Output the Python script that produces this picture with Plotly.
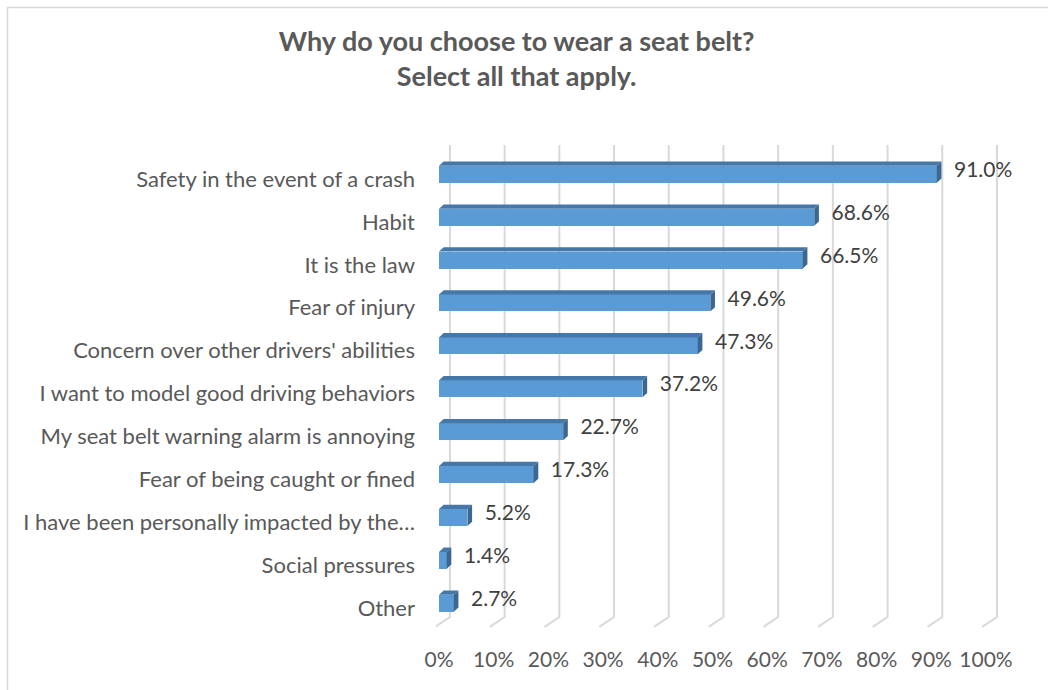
import plotly.graph_objects as go

# Survey responses (percent of respondents)
categories = [
    "Safety in the event of a crash",
    "Habit",
    "It is the law",
    "Fear of injury",
    "Concern over other drivers' abilities",
    "I want to model good driving behaviors",
    "My seat belt warning alarm is annoying",
    "Fear of being caught or fined",
    "I have been personally impacted by the…",
    "Social pressures",
    "Other",
]
values = [91.0, 68.6, 66.5, 49.6, 47.3, 37.2, 22.7, 17.3, 5.2, 1.4, 2.7]
x_ticks = [0, 10, 20, 30, 40, 50, 60, 70, 80, 90, 100]
x_tick_labels = [f"{t}%" for t in x_ticks]

TEXT = "#595959"
FONT = "Lato"
FRONT = "#5b9bd5"
TOP = "#4677a9"
SIDE = "#3c6793"
GRID = "#d9d9d9"

# pseudo-3D geometry (data units)
BAR_W = 0.396
BAR_OFF = -0.308
DEPTH_X = 0.85
DEPTH_Y = 0.10
WALL_X = 2.0
FLOOR_BACK = 10.21
FLOOR_FRONT = 10.44
FLOOR_FRONT_X = -0.7
WALL_TOP = -0.79

pos = list(range(len(categories)))

fig = go.Figure()

# back-wall gridlines folding onto the floor, kept beneath the bars
for t in x_ticks:
    path = (f"M {t + WALL_X},{WALL_TOP} L {t + WALL_X},{FLOOR_BACK} "
            f"L {t + FLOOR_FRONT_X},{FLOOR_FRONT}")
    fig.add_shape(type="path", path=path, xref="x", yref="y",
                  line=dict(color=GRID, width=2), layer="below")

# front faces
fig.add_trace(go.Bar(x=values, y=pos, orientation="h",
                     width=BAR_W, offset=BAR_OFF,
                     marker=dict(color=FRONT, line=dict(width=0)),
                     hoverinfo="skip", showlegend=False))

# top and side faces
tx, ty, sx, sy = [], [], [], []
for p, v in zip(pos, values):
    top = p + BAR_OFF
    bot = p + BAR_OFF + BAR_W
    tx += [0, v, v + DEPTH_X, DEPTH_X, 0, None]
    ty += [top, top, top - DEPTH_Y, top - DEPTH_Y, top, None]
    sx += [v, v + DEPTH_X, v + DEPTH_X, v, v, None]
    sy += [top, top - DEPTH_Y, bot - DEPTH_Y, bot, top, None]
fig.add_trace(go.Scatter(x=tx, y=ty, mode="lines", fill="toself",
                         fillcolor=TOP, line=dict(width=0, color=TOP),
                         hoverinfo="skip", showlegend=False))
fig.add_trace(go.Scatter(x=sx, y=sy, mode="lines", fill="toself",
                         fillcolor=SIDE, line=dict(width=0, color=SIDE),
                         hoverinfo="skip", showlegend=False))

# value labels
fig.add_trace(go.Scatter(
    x=[v + DEPTH_X + 2.3 for v in values],
    y=[p - 0.17 for p in pos],
    mode="text", text=[f"{v:.1f}%" for v in values],
    textposition="middle right",
    textfont=dict(family=FONT, size=21, color="#404040"),
    hoverinfo="skip", showlegend=False, cliponaxis=False))

fig.update_layout(
    width=1048, height=690,
    margin=dict(l=436, r=33, t=140, b=60),
    paper_bgcolor="white", plot_bgcolor="white",
    title=dict(
        text="Why do you choose to wear a seat belt?<br>Select all that apply.",
        font=dict(family=FONT, size=27, color=TEXT, weight="bold"),
        x=0.493, xanchor="center", y=0.926, yanchor="top",
    ),
    xaxis=dict(range=[-0.548, 105.3], tickvals=x_ticks, ticktext=x_tick_labels,
               showgrid=False, zeroline=False, showline=False, ticks="",
               ticklabelstandoff=15,
               tickfont=dict(family=FONT, size=21, color=TEXT)),
    yaxis=dict(range=[10.513, -0.909], tickvals=pos, ticktext=categories,
               showgrid=False, zeroline=False, showline=False, ticks="",
               ticklabelstandoff=20,
               tickfont=dict(family=FONT, size=22, color=TEXT)),
    bargap=0,
)

# chart frame (top and left edges visible)
fig.add_shape(type="rect", xref="paper", yref="paper",
              x0=(7.5 - 436) / (1048 - 436 - 33), x1=1.2,
              y0=-0.5, y1=(690 - 60 - 7.5) / (690 - 140 - 60),
              line=dict(color=GRID, width=1.5), fillcolor="rgba(0,0,0,0)",
              layer="below")

fig.write_html("out.html")
